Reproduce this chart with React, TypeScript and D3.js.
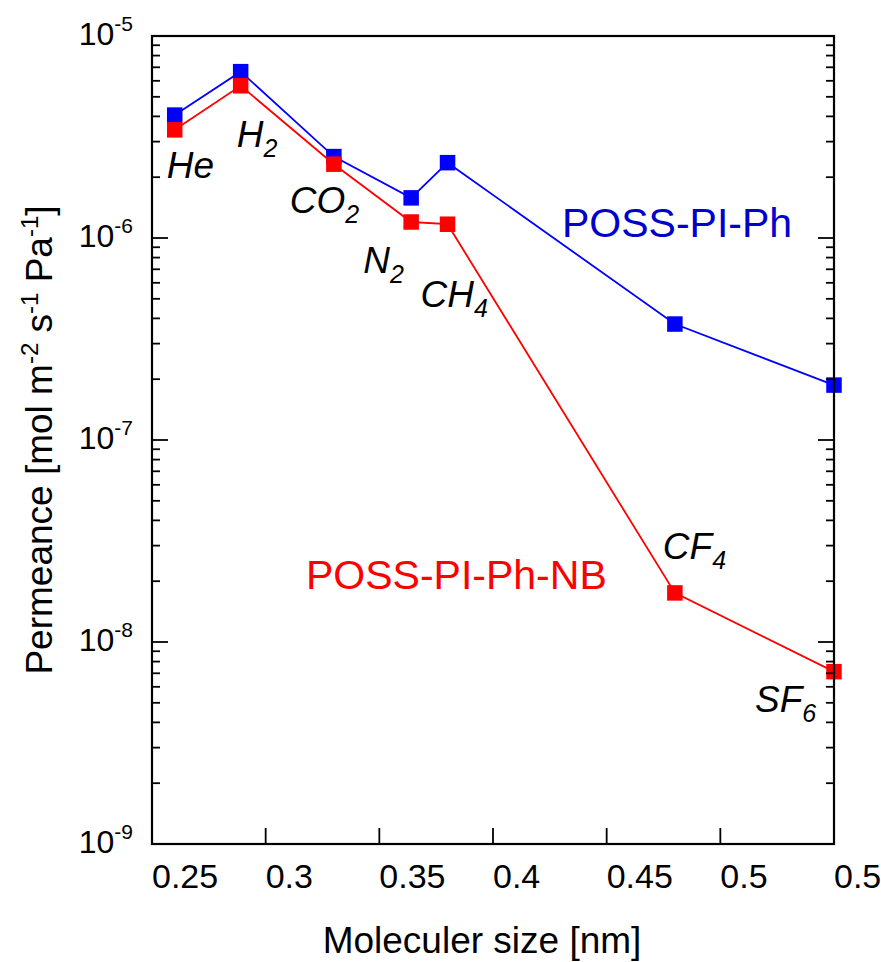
import React from "react";
import * as d3 from "d3";

// gases and their kinetic diameter [nm]
const gases = ["He", "H2", "CO2", "N2", "CH4", "CF4", "SF6"];
const molecularSize = [0.26, 0.289, 0.33, 0.364, 0.38, 0.48, 0.55];
// permeance [mol m-2 s-1 Pa-1]
const possPiPh = [4.06e-6, 6.66e-6, 2.53e-6, 1.58e-6, 2.36e-6, 3.75e-7, 1.87e-7];
const possPiPhNb = [3.43e-6, 5.67e-6, 2.32e-6, 1.2e-6, 1.17e-6, 1.75e-8, 7.13e-9];

const xTicks = [0.25, 0.3, 0.35, 0.4, 0.45, 0.5, 0.55];
const yExponents = [-9, -8, -7, -6, -5];

// label offset (px) from the lower point of each gas
const labelOffsets = [
  [-8, 48], [-4, 61], [-44, 49], [-48, 51], [-27, 83], [-12, -34], [-79, 40],
];

const FONT = "'Liberation Sans', Arial, sans-serif";
const BLUE = "#0000ff";
const RED = "#ff0000";

function GasLabel({ name, x, y }) {
  const m = name.match(/^([A-Za-z]+?)(\d*)$/);
  const base = m ? m[1] : name;
  const sub = m ? m[2] : "";
  return (
    <text x={x} y={y} fontFamily={FONT} fontStyle="italic" fontSize={37} fill="#000">
      {base}
      {sub && <tspan fontSize={25} dy={10}>{sub}</tspan>}
    </text>
  );
}

export default function App() {
  const width = 881;
  const height = 962;
  const margin = { top: 36, right: 47, bottom: 118, left: 152 };
  const innerW = width - margin.left - margin.right;
  const innerH = height - margin.top - margin.bottom;

  const x = d3.scaleLinear().domain([0.25, 0.55]).range([margin.left, margin.left + innerW]);
  const y = d3.scaleLog().domain([1e-9, 1e-5]).range([margin.top + innerH, margin.top]);

  const minor = [];
  yExponents.slice(0, -1).forEach((e) => {
    for (let m = 2; m <= 9; m++) minor.push(m * Math.pow(10, e));
  });

  const line = d3.line().x((d) => x(d[0])).y((d) => y(d[1]));
  const blueData = molecularSize.map((s, i) => [s, possPiPh[i]]);
  const redData = molecularSize.map((s, i) => [s, possPiPhNb[i]]);

  const left = margin.left;
  const right = margin.left + innerW;
  const top = margin.top;
  const bottom = margin.top + innerH;
  const sq = 15.5;

  return (
    <svg width={width} height={height} style={{ position: "absolute", left: 0, top: 0, background: "#fff" }}>
      {/* lines */}
      <path d={line(blueData)} fill="none" stroke={BLUE} strokeWidth={1.8} />
      <path d={line(redData)} fill="none" stroke={RED} strokeWidth={1.8} />
      {blueData.map((d, i) => (
        <rect key={"b" + i} x={x(d[0]) - sq / 2} y={y(d[1]) - sq / 2} width={sq} height={sq} fill={BLUE} />
      ))}
      {redData.map((d, i) => (
        <rect key={"r" + i} x={x(d[0]) - sq / 2} y={y(d[1]) - sq / 2} width={sq} height={sq} fill={RED} />
      ))}

      {/* frame */}
      <rect x={left} y={top} width={innerW} height={innerH} fill="none" stroke="#000" strokeWidth={2.2} />

      {/* y ticks, both sides */}
      {yExponents.map((e) => {
        const yy = y(Math.pow(10, e));
        return (
          <g key={"ym" + e}>
            <line x1={left} x2={left + 16} y1={yy} y2={yy} stroke="#000" strokeWidth={1.8} />
            <line x1={right} x2={right - 16} y1={yy} y2={yy} stroke="#000" strokeWidth={1.8} />
            <text x={133} y={yy + 9} textAnchor="end" fontFamily={FONT} fontSize={32} fill="#000">
              10<tspan fontSize={21} dy={-14}>{e}</tspan>
            </text>
          </g>
        );
      })}
      {minor.map((v, i) => (
        <g key={"yn" + i}>
          <line x1={left} x2={left + 8} y1={y(v)} y2={y(v)} stroke="#000" strokeWidth={1.8} />
          <line x1={right} x2={right - 8} y1={y(v)} y2={y(v)} stroke="#000" strokeWidth={1.8} />
        </g>
      ))}

      {/* x ticks */}
      {xTicks.map((t) => (
        <g key={"x" + t}>
          <line x1={x(t)} x2={x(t)} y1={bottom} y2={bottom - 16} stroke="#000" strokeWidth={1.8} />
          <text x={x(t)} y={888} fontFamily={FONT} fontSize={34} fill="#000">{String(t)}</text>
        </g>
      ))}

      {/* axis titles */}
      <text x={482} y={953} textAnchor="middle" fontFamily={FONT} fontSize={37} fill="#000">
        Moleculer size [nm]
      </text>
      <text transform={`translate(52, ${(top + bottom) / 2}) rotate(-90)`} textAnchor="middle" fontFamily={FONT} fontSize={37} fill="#000">
        Permeance [mol m<tspan fontSize={24} dy={-14}>-2</tspan>
        <tspan dy={14}> s</tspan><tspan fontSize={24} dy={-14}>-1</tspan>
        <tspan dy={14}> Pa</tspan><tspan fontSize={24} dy={-14}>-1</tspan>
        <tspan dy={14}>]</tspan>
      </text>

      {/* series labels */}
      <text x={562} y={237} fontFamily={FONT} fontSize={41} fill="#0000cc">POSS-PI-Ph</text>
      <text x={306} y={589} fontFamily={FONT} fontSize={41} fill={RED}>POSS-PI-Ph-NB</text>

      {/* gas labels */}
      {gases.map((g, i) => (
        <GasLabel
          key={g}
          name={g}
          x={x(molecularSize[i]) + labelOffsets[i][0]}
          y={y(Math.min(possPiPh[i], possPiPhNb[i])) + labelOffsets[i][1]}
        />
      ))}
    </svg>
  );
}
